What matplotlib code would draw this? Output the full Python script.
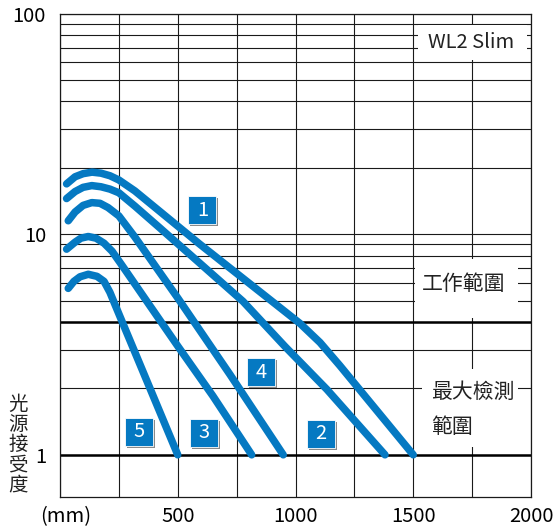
import numpy as np
import matplotlib.pyplot as plt
import matplotlib.transforms as mtransforms
from matplotlib.patches import Rectangle
from matplotlib.ticker import FixedLocator, MultipleLocator, NullFormatter

plt.rcParams['font.family'] = ['Noto Sans CJK TC', 'DejaVu Sans']

# distance (mm) vs received light level
x1 = [28, 64, 98, 136, 174, 212, 250, 318, 594, 806, 1019, 1104, 1188, 1273, 1500]
y1 = [16.9, 18.2, 18.8, 19.1, 18.9, 18.4, 17.6, 15.7, 9.0, 5.96, 3.94, 3.23, 2.54, 1.97, 1.0]
x2 = [28, 64, 98, 135, 174, 212, 250, 318, 425, 594, 777, 955, 1133, 1380]
y2 = [14.5, 15.6, 16.3, 16.6, 16.4, 16.0, 15.4, 13.4, 10.65, 7.38, 4.96, 3.1, 1.98, 1.0]
x3 = [35, 64, 98, 135, 170, 204, 250, 318, 501, 722, 948]
y3 = [11.5, 12.6, 13.5, 13.9, 13.8, 13.2, 12.1, 9.7, 5.12, 2.31, 1.0]
x4 = [28, 64, 89, 120, 153, 187, 221, 263, 354, 501, 649, 814]
y4 = [8.55, 9.2, 9.59, 9.76, 9.59, 9.1, 8.37, 7.23, 5.23, 3.1, 1.85, 1.0]
x5 = [35, 59, 85, 120, 157, 187, 212, 233, 500]
y5 = [5.68, 6.11, 6.41, 6.58, 6.44, 6.11, 5.45, 4.81, 1.0]

curves = [(x1, y1), (x2, y2), (x3, y3), (x4, y4), (x5, y5)]

# number tags: text, x, y
tags = ["1", "4", "2", "5", "3"]
tag_x = [605, 853, 1108, 335, 611]
tag_y = [12.85, 2.37, 1.246, 1.272, 1.259]

xticks = [0, 500, 1000, 1500, 2000]
xticklabels = ["(mm)", "500", "1000", "1500", "2000"]
yticks = [1, 10, 100]
yticklabels = ["1", "10", "100"]

blue = "#0579c2"
fs = 14.5
fs_cjk = 15

fig = plt.figure(figsize=(5.56, 5.29), dpi=100)
ax = fig.add_axes([60 / 556, 1 - 497 / 529, 471 / 556, 483.5 / 529])
ax.set_yscale("log")
ax.set_xlim(0, 2000)
ax.set_ylim(0.644, 100)

ax.xaxis.set_major_locator(FixedLocator(xticks))
ax.set_xticklabels(xticklabels)
ax.xaxis.set_minor_locator(MultipleLocator(250))
ax.yaxis.set_major_locator(FixedLocator(yticks))
ax.set_yticklabels(yticklabels)
ax.yaxis.set_minor_locator(FixedLocator([m * d for d in (1, 10) for m in range(2, 10)]))
ax.yaxis.set_minor_formatter(NullFormatter())
ax.tick_params(which="both", length=0)
ax.tick_params(axis="y", pad=10, labelsize=fs)
ax.tick_params(axis="x", pad=6.5, labelsize=fs)
# "(mm)" sits a little right of the origin
mm = ax.get_xticklabels()[0]
mm.set_transform(mm.get_transform() + mtransforms.ScaledTranslation(0.06, 0, fig.dpi_scale_trans))

ax.grid(True, which="both", color="#1a1a1a", lw=0.8)
ax.set_axisbelow(True)
for s in ax.spines.values():
    s.set_color("#1a1a1a")
    s.set_linewidth(0.9)

# heavier lines at 1 and 4
for v in (1, 4):
    ax.axhline(v, color="black", lw=1.8, zorder=1.5)

# white boxes hiding the grid behind the text
boxes = [
    (418, 25, 527, 60),
    (414.5, 258.5, 518, 318),
    (422, 368.5, 518, 446.5),
]
for l, t, r, b in boxes:
    ax.add_patch(Rectangle(((l - 60) / 471, (497 - b) / 483.5), (r - l) / 471, (b - t) / 483.5,
                           transform=ax.transAxes, facecolor="white", edgecolor="none", zorder=2))

ax.text((471 - 60) / 471, (497 - 42) / 483.5, "WL2 Slim", transform=ax.transAxes,
        ha="center", va="center", fontsize=fs, color="#222", zorder=3)
ax.text((464 - 60) / 471, (497 - 284) / 483.5, "工作範圍", transform=ax.transAxes,
        ha="center", va="center", fontsize=fs_cjk, color="#222", zorder=3)
ax.text((431 - 60) / 471, (497 - 392) / 483.5, "最大檢測", transform=ax.transAxes,
        ha="left", va="center", fontsize=fs_cjk, color="#222", zorder=3)
ax.text((431 - 60) / 471, (497 - 427) / 483.5, "範圍", transform=ax.transAxes,
        ha="left", va="center", fontsize=fs_cjk, color="#222", zorder=3)

for xs, ys in curves:
    ax.plot(xs, ys, color=blue, lw=5.4, solid_capstyle="round", solid_joinstyle="round", zorder=4)

# numbered square tags with a grey drop shadow
for t, tx, ty in zip(tags, tag_x, tag_y):
    tr = mtransforms.IdentityTransform() + mtransforms.ScaledTranslation(tx, ty, ax.transData)
    ax.add_patch(Rectangle((-12, -16), 28, 28, transform=tr, facecolor="#8a8a8a",
                           edgecolor="none", zorder=5))
    ax.add_patch(Rectangle((-14, -14), 28, 28, transform=tr, facecolor=blue,
                           edgecolor="white", lw=0.6, zorder=6))
    ax.text(tx, ty, t, ha="center", va="center", color="white", fontsize=fs, zorder=7)

fig.text(18 / 556, 1 - 445 / 529, "\n".join("光源接受度"), ha="center", va="center",
         fontsize=fs_cjk - 1, linespacing=0.95, color="#222")

fig.savefig("out.png", dpi=100)
